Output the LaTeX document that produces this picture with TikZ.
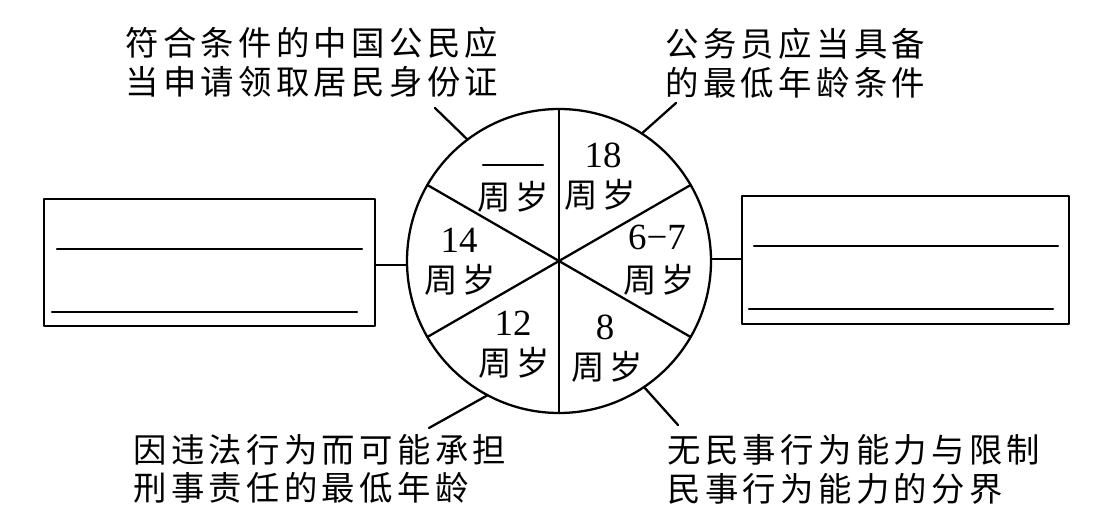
\documentclass[tikz,border=0pt]{standalone}
\usepackage{fontspec}
\newfontfamily\cjk[LetterSpace=13]{Noto Sans CJK SC}
\newfontfamily\numfont{Liberation Serif}
\usepackage{tkz-euclide}

\tikzset{
  note/.style={font=\fontsize{19}{22}\cjk,align=left,inner sep=0pt,anchor=west},
  agenum/.style={font=\fontsize{21}{24}\numfont,inner sep=0pt},
  agetext/.style={font=\fontsize{19}{22}\cjk,inner sep=0pt},
}

\begin{document}
\begin{tikzpicture}
\useasboundingbox (-11.18,-5.18) rectangle (11.00,5.22);
\tkzSetUpLine[line width=1.3pt,color=black]

\tkzDefPoints{0/0/O}

% wheel
\tkzDefPoint(90:3.04){A}
\tkzDefPoint(150:3.04){B}
\tkzDefPoint(210:3.04){C}
\tkzDefPoint(270:3.04){D}
\tkzDefPoint(330:3.04){E}
\tkzDefPoint(30:3.04){F}

% ticks to the notes
\tkzDefPoint(127:3.04){P1}
\tkzDefPoint(57:3.04){P2}
\tkzDefPoint(242:3.04){P3}
\tkzDefPoint(304:3.04){P4}
\tkzDefPoint(-2.48,3.06){Q1}
\tkzDefPoint(2.34,3.16){Q2}
\tkzDefPoint(-2.60,-3.34){Q3}
\tkzDefPoint(2.38,-3.28){Q4}

% blank for the missing age
\tkzDefPoint(-1.52,1.92){M}
\tkzDefPoint(-0.32,1.92){N}

% left box
\tkzDefPoint(-3.04,-0.08){L1}
\tkzDefPoint(-3.68,-0.08){L2}
\tkzDefPoint(-10.30,1.24){LA}
\tkzDefPoint(-3.68,1.24){LB}
\tkzDefPoint(-3.68,-1.30){LC}
\tkzDefPoint(-10.30,-1.30){LD}
\tkzDefPoint(-10.04,0.24){LE}
\tkzDefPoint(-3.94,0.24){LF}
\tkzDefPoint(-10.14,-1.02){LG}
\tkzDefPoint(-4.04,-1.02){LH}

% right box
\tkzDefPoint(3.04,0.04){R1}
\tkzDefPoint(3.66,0.04){R2}
\tkzDefPoint(3.66,1.30){RA}
\tkzDefPoint(10.20,1.30){RB}
\tkzDefPoint(10.20,-1.26){RC}
\tkzDefPoint(3.66,-1.26){RD}
\tkzDefPoint(3.90,0.30){RE}
\tkzDefPoint(9.98,0.30){RF}
\tkzDefPoint(3.80,-0.96){RG}
\tkzDefPoint(9.88,-0.96){RH}

\tkzDrawCircle[line width=1.3pt,color=black](O,A)
\tkzDrawSegments[line width=1.3pt,color=black](A,D B,E C,F)
\tkzDrawSegments[line width=1.3pt,color=black](P1,Q1 P2,Q2 P3,Q3 P4,Q4)
\tkzDrawSegments[line width=1.3pt,color=black](M,N L1,L2 R1,R2)
\tkzDrawSegments[line width=1.3pt,color=black](LE,LF LG,LH RE,RF RG,RH)
\tkzDrawPolygon[line width=1.3pt,color=black](LA,LB,LC,LD)
\tkzDrawPolygon[line width=1.3pt,color=black](RA,RB,RC,RD)

% ages in the wheel
\node[agetext] (blankage) at (-0.92,1.28) {周岁};
\node[agenum] (adultnum) at (0.88,2.12) {18};
\node[agetext] (adultage) at (0.82,1.32) {周岁};
\node[agenum] (childnum) at (1.96,0.48) {6−7};
\node[agetext] (childage) at (2.00,-0.38) {周岁};
\node[agenum] (eightnum) at (0.92,-1.32) {8};
\node[agetext] (eightage) at (0.96,-2.12) {周岁};
\node[agenum] (twelvenum) at (-0.92,-1.24) {12};
\node[agetext] (twelveage) at (-0.90,-2.04) {周岁};
\node[agenum] (fourteennum) at (-2.00,0.42) {14};
\node[agetext] (fourteenage) at (-1.98,-0.38) {周岁};

% notes
\node[note] (cardnote) at (-8.68,3.97) {符合条件的中国公民应\\当申请领取居民身份证};
\node[note] (officernote) at (2.12,3.95) {公务员应当具备\\的最低年龄条件};
\node[note] (crimenote) at (-8.52,-4.16) {因违法行为而可能承担\\刑事责任的最低年龄};
\node[note] (civilnote) at (2.16,-4.17) {无民事行为能力与限制\\民事行为能力的分界};

\end{tikzpicture}
\end{document}
